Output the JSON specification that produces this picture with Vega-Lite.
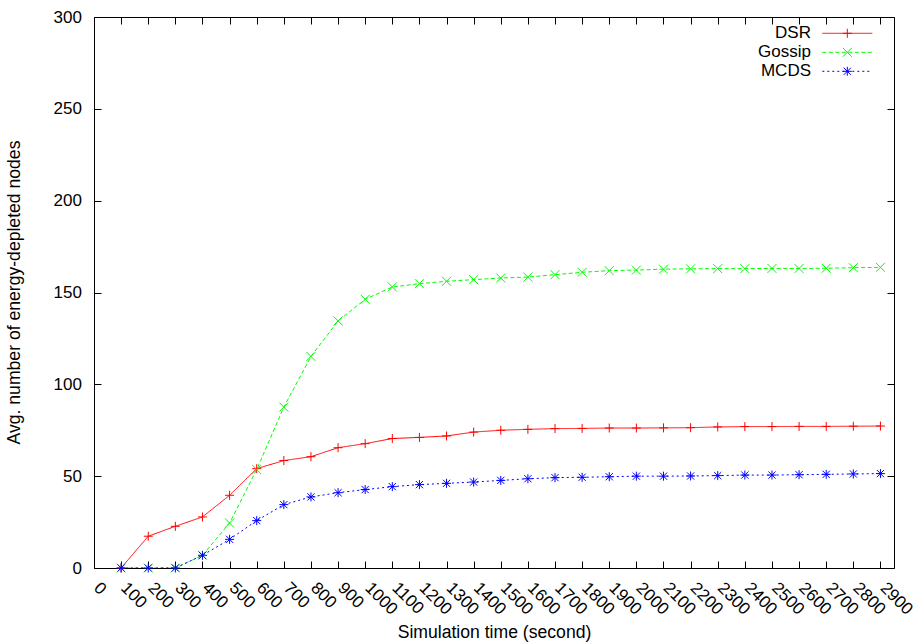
{
  "$schema": "https://vega.github.io/schema/vega-lite/v6.json",
  "width": 800,
  "height": 551,
  "autosize": {"type": "none"},
  "padding": {"left": 94, "top": 17, "right": 26, "bottom": 76},
  "background": "white",
  "config": {
    "font": "Liberation Sans",
    "view": {"stroke": "black", "strokeWidth": 1},
    "axis": {
      "domain": false,
      "grid": false,
      "ticks": true,
      "tickColor": "black",
      "tickSize": -7,
      "tickWidth": 1,
      "labelFont": "Liberation Sans",
      "labelFontSize": 17,
      "labelColor": "black",
      "labelOverlap": false,
      "labelFlush": false,
      "labelBound": false,
      "titleFont": "Liberation Sans",
      "titleFontSize": 17.6,
      "titleFontWeight": "normal",
      "titleColor": "black"
    }
  },
  "data": {
    "values": [
      {"t": 100, "DSR": 0, "Gossip": 0, "MCDS": 0},
      {"t": 200, "DSR": 17.3, "Gossip": 0, "MCDS": 0},
      {"t": 300, "DSR": 22.7, "Gossip": 0, "MCDS": 0},
      {"t": 400, "DSR": 27.8, "Gossip": 6.9, "MCDS": 6.9},
      {"t": 500, "DSR": 39.6, "Gossip": 24.5, "MCDS": 15.6},
      {"t": 600, "DSR": 54.1, "Gossip": 53.6, "MCDS": 25.8},
      {"t": 700, "DSR": 58.5, "Gossip": 87.6, "MCDS": 34.5},
      {"t": 800, "DSR": 60.6, "Gossip": 115.2, "MCDS": 38.7},
      {"t": 900, "DSR": 65.5, "Gossip": 134.5, "MCDS": 41.0},
      {"t": 1000, "DSR": 67.7, "Gossip": 146.3, "MCDS": 42.7},
      {"t": 1100, "DSR": 70.5, "Gossip": 153.0, "MCDS": 44.3},
      {"t": 1200, "DSR": 71.1, "Gossip": 154.8, "MCDS": 45.4},
      {"t": 1300, "DSR": 71.9, "Gossip": 156.1, "MCDS": 46.1},
      {"t": 1400, "DSR": 74.0, "Gossip": 157.0, "MCDS": 46.8},
      {"t": 1500, "DSR": 75.0, "Gossip": 157.9, "MCDS": 47.7},
      {"t": 1600, "DSR": 75.5, "Gossip": 158.4, "MCDS": 48.6},
      {"t": 1700, "DSR": 75.9, "Gossip": 159.7, "MCDS": 49.2},
      {"t": 1800, "DSR": 76.0, "Gossip": 161.0, "MCDS": 49.4},
      {"t": 1900, "DSR": 76.2, "Gossip": 161.9, "MCDS": 49.7},
      {"t": 2000, "DSR": 76.2, "Gossip": 162.2, "MCDS": 50.0},
      {"t": 2100, "DSR": 76.3, "Gossip": 162.7, "MCDS": 50.0},
      {"t": 2200, "DSR": 76.4, "Gossip": 162.9, "MCDS": 50.1},
      {"t": 2300, "DSR": 76.8, "Gossip": 163.0, "MCDS": 50.3},
      {"t": 2400, "DSR": 77.0, "Gossip": 163.0, "MCDS": 50.6},
      {"t": 2500, "DSR": 77.0, "Gossip": 163.1, "MCDS": 50.6},
      {"t": 2600, "DSR": 77.1, "Gossip": 163.1, "MCDS": 50.8},
      {"t": 2700, "DSR": 77.1, "Gossip": 163.2, "MCDS": 51.0},
      {"t": 2800, "DSR": 77.2, "Gossip": 163.5, "MCDS": 51.2},
      {"t": 2900, "DSR": 77.3, "Gossip": 163.7, "MCDS": 51.4}
    ]
  },
  "transform": [{"fold": ["DSR", "Gossip", "MCDS"], "as": ["series", "value"]}],
  "layer": [
    {
      "mark": {"type": "line", "strokeWidth": 1, "clip": true},
      "encoding": {
        "x": {
          "field": "t",
          "type": "quantitative",
          "scale": {"domain": [0, 2950], "nice": false, "zero": false},
          "axis": {
            "orient": "bottom",
            "values": [0,100,200,300,400,500,600,700,800,900,1000,1100,1200,1300,1400,1500,1600,1700,1800,1900,2000,2100,2200,2300,2400,2500,2600,2700,2800,2900],
            "format": "d",
            "labelAngle": 45,
            "labelAlign": "left",
            "labelBaseline": "middle",
            "labelPadding": 24,
            "labelOffset": 2,
            "title": "Simulation time (second)",
            "titleX": 400,
            "titleY": 69,
            "titleAlign": "center",
            "titleBaseline": "alphabetic"
          }
        },
        "y": {
          "field": "value",
          "type": "quantitative",
          "scale": {"domain": [0, 300], "nice": false, "zero": false},
          "axis": {
            "orient": "left",
            "values": [0, 50, 100, 150, 200, 250, 300],
            "labelPadding": 19.6,
            "title": "Avg. number of energy-depleted nodes",
            "titleX": -74.5,
            "titleY": 275,
            "titleAngle": -90,
            "titleAlign": "center",
            "titleBaseline": "alphabetic"
          }
        },
        "color": {
          "field": "series",
          "type": "nominal",
          "scale": {"domain": ["DSR", "Gossip", "MCDS"], "range": ["#ff0000", "#00ff00", "#0000ff"]},
          "legend": {
            "orient": "none", "legendX": 744.8, "legendY": 7.8, "title": null,
            "symbolType": "M-5,0L5,0", "symbolSize": 100, "symbolStrokeWidth": 1,
            "rowPadding": 1, "padding": 0, "symbolOffset": 0,
            "labelAlign": "right", "labelOffset": -44.8, "labelFontSize": 17,
            "labelColor": "black", "labelFont": "Liberation Sans", "labelLimit": 0
          }
        },
        "strokeDash": {
          "field": "series",
          "type": "nominal",
          "scale": {"domain": ["DSR", "Gossip", "MCDS"], "range": [[1, 0], [4, 2.5], [2, 3]]},
          "legend": {
            "orient": "none", "legendX": 744.8, "legendY": 7.8, "title": null,
            "symbolType": "M-5,0L5,0", "symbolSize": 100, "symbolStrokeWidth": 1,
            "rowPadding": 1, "padding": 0, "symbolOffset": 0,
            "labelAlign": "right", "labelOffset": -44.8, "labelFontSize": 17,
            "labelColor": "black", "labelFont": "Liberation Sans", "labelLimit": 0
          }
        }
      }
    },
    {
      "mark": {"type": "point", "filled": false, "strokeWidth": 1, "size": 81, "opacity": 1},
      "encoding": {
        "x": {
          "field": "t",
          "type": "quantitative",
          "axis": {
            "orient": "top",
            "values": [0,100,200,300,400,500,600,700,800,900,1000,1100,1200,1300,1400,1500,1600,1700,1800,1900,2000,2100,2200,2300,2400,2500,2600,2700,2800,2900],
            "labels": false,
            "title": null
          }
        },
        "y": {
          "field": "value",
          "type": "quantitative",
          "axis": {
            "orient": "right",
            "values": [0, 50, 100, 150, 200, 250, 300],
            "labels": false,
            "title": null
          }
        },
        "color": {
          "field": "series",
          "type": "nominal",
          "legend": {
            "orient": "none", "legendX": 744.8, "legendY": 7.8, "title": null,
            "symbolSize": 81, "symbolStrokeWidth": 1,
            "rowPadding": 1, "padding": 0, "symbolOffset": 0,
            "labelExpr": "''", "labelFontSize": 17
          }
        },
        "shape": {
          "field": "series",
          "type": "nominal",
          "scale": {
            "domain": ["DSR", "Gossip", "MCDS"],
            "range": ["M-1,0L1,0M0,-1L0,1", "M-1,-1L1,1M-1,1L1,-1", "M-1,0L1,0M0,-1L0,1M-0.8,-0.8L0.8,0.8M-0.8,0.8L0.8,-0.8"]
          },
          "legend": {
            "orient": "none", "legendX": 744.8, "legendY": 7.8, "title": null,
            "symbolSize": 81, "symbolStrokeWidth": 1,
            "rowPadding": 1, "padding": 0, "symbolOffset": 0,
            "labelExpr": "''", "labelFontSize": 17
          }
        }
      }
    }
  ],
  "resolve": {
    "axis": {"x": "independent", "y": "independent"},
    "legend": {"color": "independent", "strokeDash": "independent", "shape": "independent"}
  }
}
